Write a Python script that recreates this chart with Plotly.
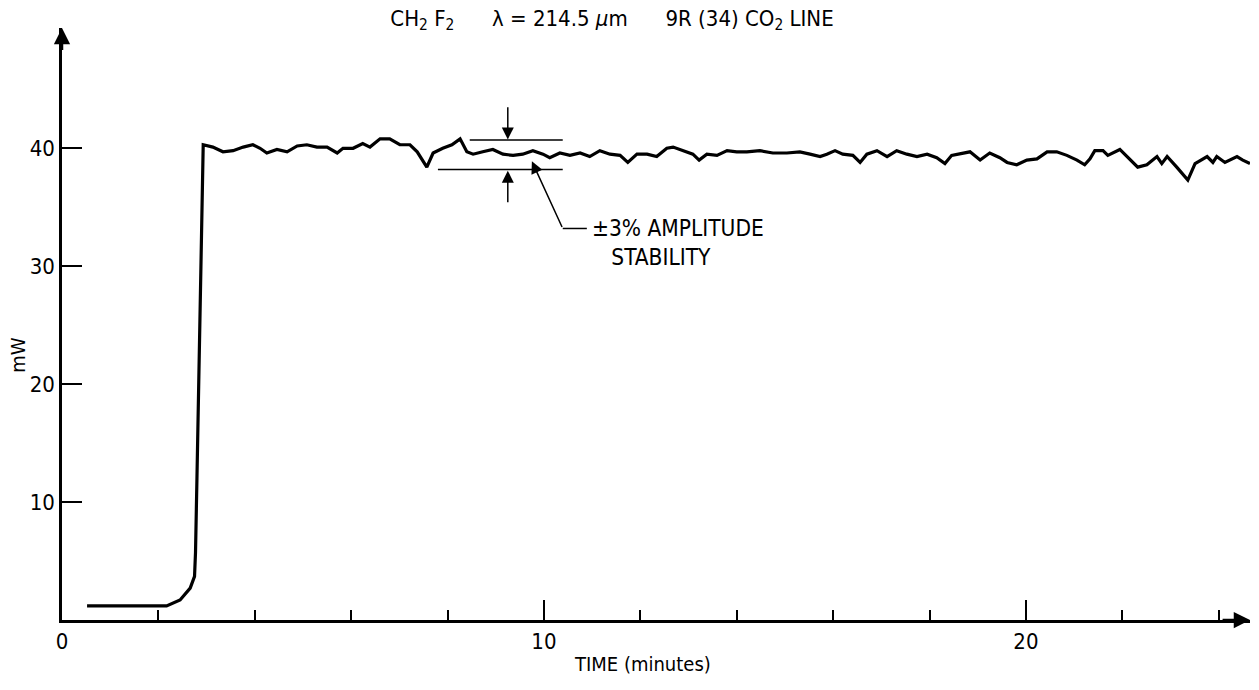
import plotly.graph_objects as go

# ---- data ----
time_min = [
    0.52, 2.17, 2.45, 2.66, 2.75, 2.77, 2.80, 2.86, 2.93,
    3.13, 3.34, 3.55, 3.76, 3.96, 4.11, 4.25, 4.46, 4.67, 4.88,
    5.08, 5.29, 5.50, 5.71, 5.83, 6.04, 6.24, 6.39, 6.60, 6.80,
    7.01, 7.22, 7.37, 7.57, 7.70, 7.90, 8.09, 8.26, 8.40, 8.53,
    8.73, 8.94, 9.15, 9.36, 9.56, 9.77, 9.98, 10.12, 10.33, 10.54,
    10.75, 10.95, 11.16, 11.37, 11.58, 11.74, 11.93, 12.14, 12.34, 12.55,
    12.68, 12.88, 13.09, 13.22, 13.38, 13.59, 13.80, 14.00, 14.21, 14.48,
    14.75, 15.04, 15.31, 15.52, 15.73, 15.87, 16.04, 16.20, 16.41, 16.56,
    16.70, 16.91, 17.12, 17.32, 17.53, 17.74, 17.95, 18.15, 18.32, 18.46,
    18.59, 18.84, 19.05, 19.25, 19.46, 19.61, 19.81, 20.02, 20.23, 20.44,
    20.64, 20.85, 21.06, 21.22, 21.33, 21.43, 21.60, 21.70, 21.95, 22.10,
    22.32, 22.51, 22.72, 22.82, 22.93, 23.13, 23.36, 23.51, 23.76, 23.88,
    23.96, 24.13, 24.38, 24.50, 24.65,
]
power_mw = [
    1.2, 1.2, 1.7, 2.7, 3.7, 5.7, 12.0, 25.0, 40.3,
    40.1, 39.7, 39.8, 40.1, 40.3, 40.0, 39.6, 39.9, 39.7, 40.2,
    40.3, 40.1, 40.1, 39.6, 40.0, 40.0, 40.4, 40.1, 40.8, 40.8,
    40.3, 40.3, 39.7, 38.4, 39.6, 40.0, 40.3, 40.8, 39.7, 39.5,
    39.7, 39.9, 39.5, 39.4, 39.5, 39.8, 39.5, 39.2, 39.6, 39.4,
    39.6, 39.3, 39.8, 39.5, 39.4, 38.8, 39.5, 39.5, 39.3, 40.0,
    40.1, 39.8, 39.5, 39.0, 39.5, 39.4, 39.8, 39.7, 39.7, 39.8,
    39.6, 39.6, 39.7, 39.5, 39.3, 39.5, 39.8, 39.5, 39.4, 38.8,
    39.5, 39.8, 39.3, 39.8, 39.5, 39.3, 39.5, 39.2, 38.7, 39.4,
    39.5, 39.7, 39.0, 39.6, 39.2, 38.8, 38.6, 39.0, 39.1, 39.7,
    39.7, 39.4, 39.0, 38.6, 39.1, 39.8, 39.8, 39.4, 39.9, 39.3,
    38.4, 38.6, 39.3, 38.7, 39.3, 38.4, 37.3, 38.7, 39.3, 38.8,
    39.3, 38.8, 39.3, 39.0, 38.7,
]
y_tick_vals = [10, 20, 30, 40]
x_tick_vals = [0, 10, 20]
x_tick_text = ["0", "10", "20"]

# stability band markers (mW) and their time spans (min)
band_upper = 40.7
band_lower = 38.2
band_upper_span = [8.46, 10.39]
band_lower_span = [7.80, 10.39]
band_arrow_x = 9.25

X_MAX = 24.65
Y_MAX = 50.2

FONT = "DejaVu Sans Condensed, DejaVu Sans, sans-serif"

fig = go.Figure()
fig.add_trace(go.Scatter(
    x=time_min, y=power_mw, mode="lines",
    line=dict(color="black", width=3.2),
    hoverinfo="skip", showlegend=False,
))

# band lines
fig.add_shape(type="line", x0=band_upper_span[0], x1=band_upper_span[1],
              y0=band_upper, y1=band_upper, line=dict(color="black", width=1.5))
fig.add_shape(type="line", x0=band_lower_span[0], x1=band_lower_span[1],
              y0=band_lower, y1=band_lower, line=dict(color="black", width=1.5))
# leader horizontal part
fig.add_shape(type="line", x0=10.39, x1=10.89, y0=33.2, y1=33.2,
              line=dict(color="black", width=1.5))

annots = []
# vertical arrows
annots.append(dict(x=band_arrow_x, y=band_upper + 0.05, ax=band_arrow_x, ay=43.6,
                   xref="x", yref="y", axref="x", ayref="y", text="",
                   showarrow=True, arrowhead=2, arrowsize=1.6, arrowwidth=1.5,
                   arrowcolor="black", standoff=0, startstandoff=0))
annots.append(dict(x=band_arrow_x, y=band_lower - 0.1, ax=band_arrow_x, ay=35.3,
                   xref="x", yref="y", axref="x", ayref="y", text="",
                   showarrow=True, arrowhead=2, arrowsize=1.6, arrowwidth=1.5,
                   arrowcolor="black", standoff=0, startstandoff=0))
# leader diagonal arrow
annots.append(dict(x=9.75, y=38.9, ax=10.39, ay=33.2,
                   xref="x", yref="y", axref="x", ayref="y", text="",
                   showarrow=True, arrowhead=2, arrowsize=1.6, arrowwidth=1.5,
                   arrowcolor="black", standoff=0, startstandoff=0))
# axis arrowheads
annots.append(dict(x=X_MAX, y=0, ax=X_MAX - 0.6, ay=0,
                   xref="x", yref="y", axref="x", ayref="y", text="",
                   showarrow=True, arrowhead=2, arrowsize=1.3, arrowwidth=2.5,
                   arrowcolor="black", standoff=0))
annots.append(dict(x=0, y=Y_MAX, ax=0, ay=Y_MAX - 2,
                   xref="x", yref="y", axref="x", ayref="y", text="",
                   showarrow=True, arrowhead=2, arrowsize=1.3, arrowwidth=2.5,
                   arrowcolor="black", standoff=0))
# texts
annots.append(dict(x=10.95, y=32.05, xref="x", yref="y",
                   text="±3% AMPLITUDE<br>&nbsp;&nbsp;&nbsp;STABILITY",
                   align="left", showarrow=False, xanchor="left", yanchor="middle",
                   font=dict(family=FONT, size=22.5, color="black")))
annots.append(dict(x=-0.037, y=22.5, xref="paper", yref="y", text="mW",
                   textangle=-90, showarrow=False, xanchor="center", yanchor="middle",
                   font=dict(family=FONT, size=20, color="black")))
annots.append(dict(x=12.05, y=-0.074, xref="x", yref="paper", text="TIME (minutes)",
                   showarrow=False, xanchor="center", yanchor="middle",
                   font=dict(family=FONT, size=20, color="black")))

fig.update_layout(
    width=1259, height=690,
    margin=dict(l=62, r=9, t=28, b=70),
    paper_bgcolor="white", plot_bgcolor="white",
    title=dict(
        text="CH<sub>2</sub> F<sub>2</sub>      λ = 214.5 <i>μ</i>m      9R (34) CO<sub>2</sub> LINE",
        x=612 / 1259, xanchor="center", y=1 - 18 / 690, yanchor="middle",
        xref="container", yref="container",
        font=dict(family=FONT, size=22, color="black"),
    ),
    annotations=annots,
    xaxis=dict(
        range=[0, X_MAX], showgrid=False, zeroline=False,
        showline=True, linecolor="black", linewidth=2.5,
        tickmode="array", tickvals=x_tick_vals, ticktext=x_tick_text,
        ticks="inside", ticklen=20, tickwidth=1.5, tickcolor="black",
        minor=dict(dtick=2, tick0=0, ticks="inside", ticklen=10,
                   tickwidth=1.5, tickcolor="black", showgrid=False),
        tickfont=dict(family=FONT, size=22, color="black"),
    ),
    yaxis=dict(
        range=[0, Y_MAX], showgrid=False, zeroline=False,
        showline=True, linecolor="black", linewidth=2.5,
        tickmode="array", tickvals=y_tick_vals,
        ticks="inside", ticklen=20, tickwidth=1.5, tickcolor="black",
        tickfont=dict(family=FONT, size=22, color="black"),
    ),
)

fig.write_html("out.html")
